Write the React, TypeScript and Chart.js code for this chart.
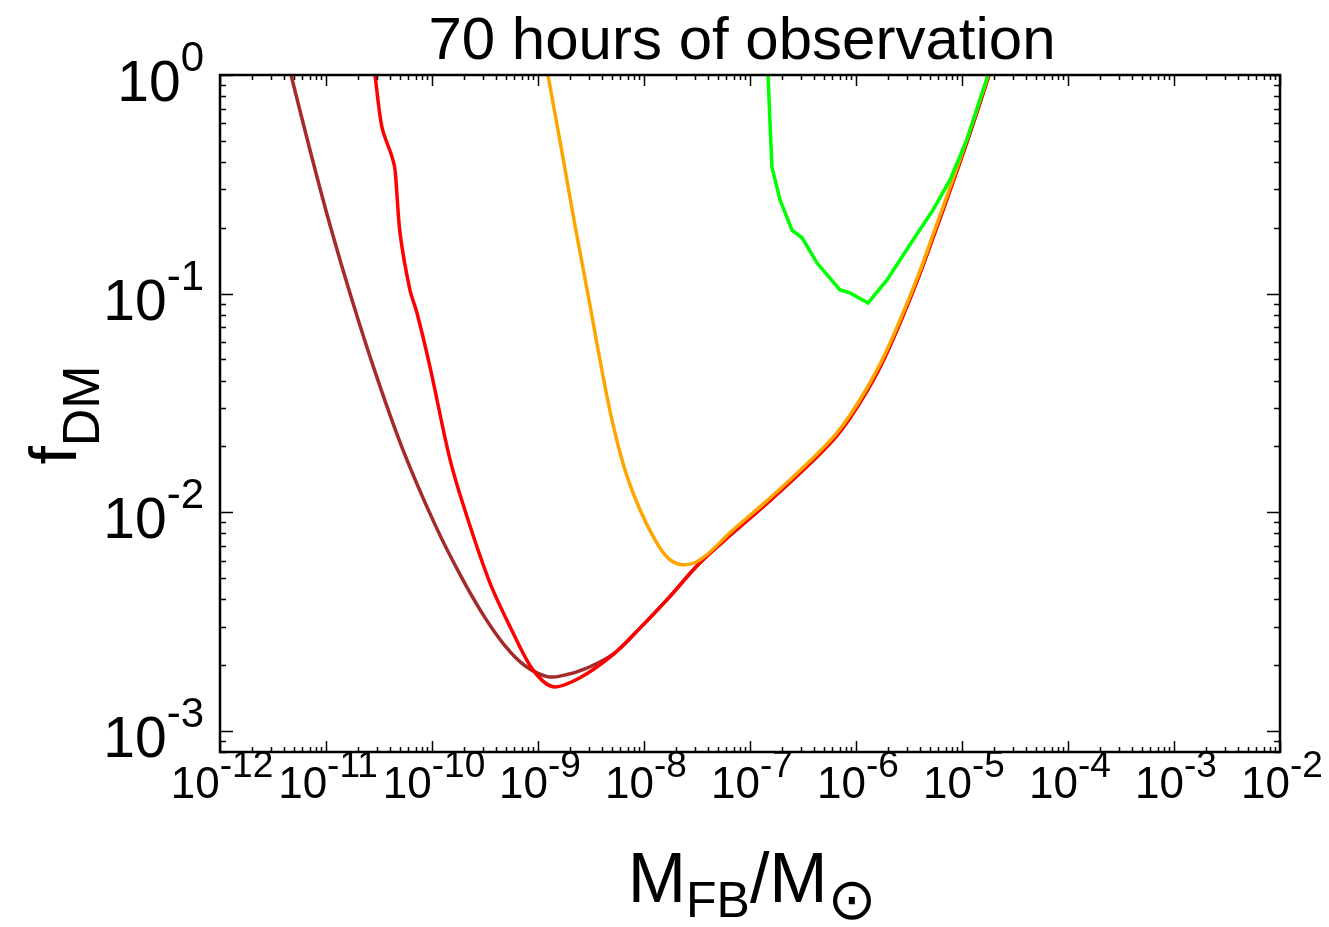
import React, { useEffect, useRef } from 'react';
import { Chart, registerables } from 'chart.js';

Chart.register(...registerables);

// ---------------- data ----------------
const chartTitle = '70 hours of observation';

const xTickExponents = [-12, -11, -10, -9, -8, -7, -6, -5, -4, -3, -2];
const yTickExponents = [0, -1, -2, -3];

const X_MIN = 1e-12;
const X_MAX = 1e-2;
const Y_MIN = 8e-4;
const Y_MAX = 1;

const brownMass = [4.68e-12, 7.06e-12, 1.09e-11, 1.76e-11, 2.97e-11, 5.32e-11, 1.07e-10, 1.84e-10, 3.03e-10, 4.78e-10, 7.38e-10, 1.22e-9, 1.8e-9, 2.77e-9, 5.1e-9, 9.16e-9, 1.65e-8, 3.37e-8, 6.92e-8, 1.45e-7, 2.96e-7, 6.07e-7, 8.77e-7, 1.27e-6, 1.8e-6, 2.6e-6, 3.76e-6, 5.56e-6, 8.22e-6, 1.19e-5, 1.8e-5];
const brownFrac = [1.0, 0.454, 0.206, 0.0935, 0.0425, 0.0193, 8.75e-3, 5.18e-3, 3.4e-3, 2.48e-3, 2.0e-3, 1.77e-3, 1.8e-3, 1.92e-3, 2.24e-3, 2.95e-3, 3.98e-3, 5.87e-3, 8.05e-3, 1.1e-2, 1.51e-2, 2.14e-2, 2.7e-2, 3.59e-2, 4.92e-2, 7.35e-2, 0.114, 0.191, 0.324, 0.543, 1.0];

const redMass = [2.9e-11, 3.37e-11, 4.2e-11, 4.48e-11, 4.99e-11, 6.19e-11, 7.21e-11, 9.57e-11, 1.48e-10, 2.14e-10, 3.52e-10, 5.81e-10, 8.97e-10, 1.39e-9, 2.49e-9, 5.1e-9, 9.16e-9, 1.65e-8, 3.37e-8, 6.92e-8, 1.45e-7, 2.96e-7, 6.07e-7, 8.77e-7, 1.27e-6, 1.8e-6, 2.6e-6, 3.76e-6, 5.56e-6, 8.22e-6, 1.19e-5, 1.8e-5];
const redFrac = [1.0, 0.578, 0.422, 0.368, 0.19, 0.104, 0.0817, 0.0462, 0.0174, 9.53e-3, 4.75e-3, 2.81e-3, 1.9e-3, 1.59e-3, 1.75e-3, 2.23e-3, 2.95e-3, 3.98e-3, 5.87e-3, 8.05e-3, 1.1e-2, 1.51e-2, 2.14e-2, 2.7e-2, 3.59e-2, 4.92e-2, 7.35e-2, 0.114, 0.191, 0.324, 0.543, 1.0];

const orangeMass = [1.24e-9, 1.67e-9, 2.23e-9, 3.03e-9, 3.84e-9, 4.99e-9, 6.62e-9, 9.16e-9, 1.27e-8, 1.68e-8, 2.28e-8, 3.37e-8, 6.92e-8, 1.45e-7, 2.96e-7, 6.07e-7, 8.77e-7, 1.27e-6, 1.8e-6, 2.6e-6, 3.76e-6, 5.56e-6, 8.22e-6, 1.19e-5, 1.77e-5];
const orangeFrac = [1.0, 0.454, 0.206, 0.0935, 0.0498, 0.0264, 0.0156, 0.01026, 7.48e-3, 6.18e-3, 5.75e-3, 6.05e-3, 8.3e-3, 1.13e-2, 1.55e-2, 2.2e-2, 2.78e-2, 3.7e-2, 5.07e-2, 7.57e-2, 0.117, 0.197, 0.334, 0.56, 1.0];

const greenMass = [1.48e-7, 1.55e-7, 1.61e-7, 1.92e-7, 2.49e-7, 3.1e-7, 4.29e-7, 7.06e-7, 8.77e-7, 1.3e-6, 1.96e-6, 3.45e-6, 5.32e-6, 7.71e-6, 1.11e-5, 1.76e-5];
const greenFrac = [1.0, 0.578, 0.379, 0.268, 0.195, 0.18, 0.138, 0.104, 0.1007, 0.0906, 0.1156, 0.176, 0.241, 0.331, 0.505, 1.0];

// ---------------- styling ----------------
const FONT = '"Liberation Sans", "DejaVu Sans", Arial, sans-serif';

function pts(xs: number[], ys: number[]) {
  return xs.map((x, i) => ({ x, y: ys[i] }));
}

function drawPow(ctx: CanvasRenderingContext2D, x: number, y: number, exp: string,
  baseSize: number, supSize: number, raise: number, align: 'center' | 'right') {
  ctx.font = `${baseSize}px ${FONT}`;
  const w1 = ctx.measureText('10').width;
  ctx.font = `${supSize}px ${FONT}`;
  const w2 = ctx.measureText(exp).width;
  const total = w1 + w2;
  const start = align === 'center' ? x - total / 2 : x - total;
  ctx.textAlign = 'left';
  ctx.textBaseline = 'alphabetic';
  ctx.font = `${baseSize}px ${FONT}`;
  ctx.fillText('10', start, y);
  ctx.font = `${supSize}px ${FONT}`;
  ctx.fillText(exp, start + w1, y - raise);
}

const decorPlugin = {
  id: 'decor',
  afterDatasetsDraw(chart: any) {
    const { ctx, chartArea: a, scales } = chart;
    const xs = scales.x;
    const ys = scales.y;
    ctx.save();
    ctx.fillStyle = '#000';
    ctx.strokeStyle = '#000';

    // minor / major ticks (inward, on all four sides)
    ctx.lineWidth = 1.5;
    ctx.beginPath();
    for (let e = -12; e <= -2; e++) {
      for (let m = 1; m <= 9; m++) {
        const v = m * Math.pow(10, e);
        if (v < X_MIN * 0.999 || v > X_MAX * 1.001) continue;
        const px = Math.round(xs.getPixelForValue(v)) + 0.5;
        const len = m === 1 ? 11 : 5;
        ctx.moveTo(px, a.bottom);
        ctx.lineTo(px, a.bottom - len);
        ctx.moveTo(px, a.top);
        ctx.lineTo(px, a.top + len);
      }
    }
    for (let e = -4; e <= 0; e++) {
      for (let m = 1; m <= 9; m++) {
        const v = m * Math.pow(10, e);
        if (v < Y_MIN * 0.999 || v > Y_MAX * 1.001) continue;
        const py = Math.round(ys.getPixelForValue(v)) + 0.5;
        const len = m === 1 ? 13 : 6;
        ctx.moveTo(a.left, py);
        ctx.lineTo(a.left + len, py);
        ctx.moveTo(a.right, py);
        ctx.lineTo(a.right - len, py);
      }
    }
    ctx.stroke();

    // frame
    ctx.lineWidth = 2.5;
    ctx.strokeRect(a.left, a.top, a.right - a.left, a.bottom - a.top);

    // x tick labels
    for (const e of xTickExponents) {
      const px = xs.getPixelForValue(Math.pow(10, e));
      drawPow(ctx, px + 2, a.bottom + 46, String(e), 44, 37, 21, 'center');
    }
    // y tick labels
    for (const e of yTickExponents) {
      const py = ys.getPixelForValue(Math.pow(10, e));
      drawPow(ctx, a.left - 16, py + 26, String(e), 57, 42, 30, 'right');
    }

    // title
    ctx.font = `60px ${FONT}`;
    ctx.textAlign = 'center';
    ctx.textBaseline = 'alphabetic';
    ctx.fillText(chartTitle, 742, 59);

    // x-axis title: M_FB / M_sun
    const parts: [string, string, number][] = [
      ['M', `70px ${FONT}`, 0],
      ['FB', `50px ${FONT}`, 15],
      ['/M', `70px ${FONT}`, 0],
      ['\u2299', `58px "DejaVu Sans", ${FONT}`, 17],
    ];
    let totalW = 0;
    for (const [t, f] of parts) {
      ctx.font = f;
      totalW += ctx.measureText(t).width;
    }
    let cx = 752 - totalW / 2;
    ctx.textAlign = 'left';
    for (const [t, f, dy] of parts) {
      ctx.font = f;
      ctx.fillText(t, cx, 902 + dy);
      cx += ctx.measureText(t).width;
    }

    // y-axis title: f_DM (rotated)
    ctx.save();
    ctx.translate(76, 415);
    ctx.rotate(-Math.PI / 2);
    ctx.font = `66px ${FONT}`;
    const fw = ctx.measureText('f').width;
    ctx.font = `52px ${FONT}`;
    const dw = ctx.measureText('DM').width;
    const start = -(fw + dw) / 2;
    ctx.font = `66px ${FONT}`;
    ctx.textAlign = 'left';
    ctx.fillText('f', start, 0);
    ctx.font = `52px ${FONT}`;
    ctx.fillText('DM', start + fw, 23);
    ctx.restore();

    ctx.restore();
  },
};

export default function App() {
  const canvasRef = useRef<HTMLCanvasElement | null>(null);

  useEffect(() => {
    const canvas = canvasRef.current;
    if (!canvas) return;
    const line = (label: string, xs: number[], ys: number[], color: string, order: number, tension: number) => ({
      label,
      data: pts(xs, ys),
      showLine: true,
      borderColor: color,
      backgroundColor: color,
      borderWidth: 3.5,
      pointRadius: 0,
      pointHoverRadius: 0,
      tension,
      fill: false,
      order,
    });
    const chart = new Chart(canvas, {
      type: 'scatter',
      data: {
        datasets: [
          line('brown', brownMass, brownFrac, '#a52a2a', 4, 0.4),
          line('red', redMass, redFrac, '#ff0000', 3, 0.3),
          line('orange', orangeMass, orangeFrac, '#ffa500', 2, 0.4),
          line('green', greenMass, greenFrac, '#00ff00', 1, 0),
        ],
      },
      options: {
        animation: false,
        responsive: false,
        devicePixelRatio: 1,
        layout: { padding: { left: 220, top: 75, right: 49, bottom: 175 } },
        plugins: { legend: { display: false }, tooltip: { enabled: false } },
        events: [],
        scales: {
          x: { type: 'logarithmic', min: X_MIN, max: X_MAX, display: false },
          y: { type: 'logarithmic', min: Y_MIN, max: Y_MAX, display: false },
        },
      },
      plugins: [decorPlugin],
    });
    return () => chart.destroy();
  }, []);

  return (
    <div style={{ position: 'fixed', left: 0, top: 0, width: 1329, height: 927, background: '#fff' }}>
      <canvas ref={canvasRef} width={1329} height={927} style={{ display: 'block' }} />
    </div>
  );
}
